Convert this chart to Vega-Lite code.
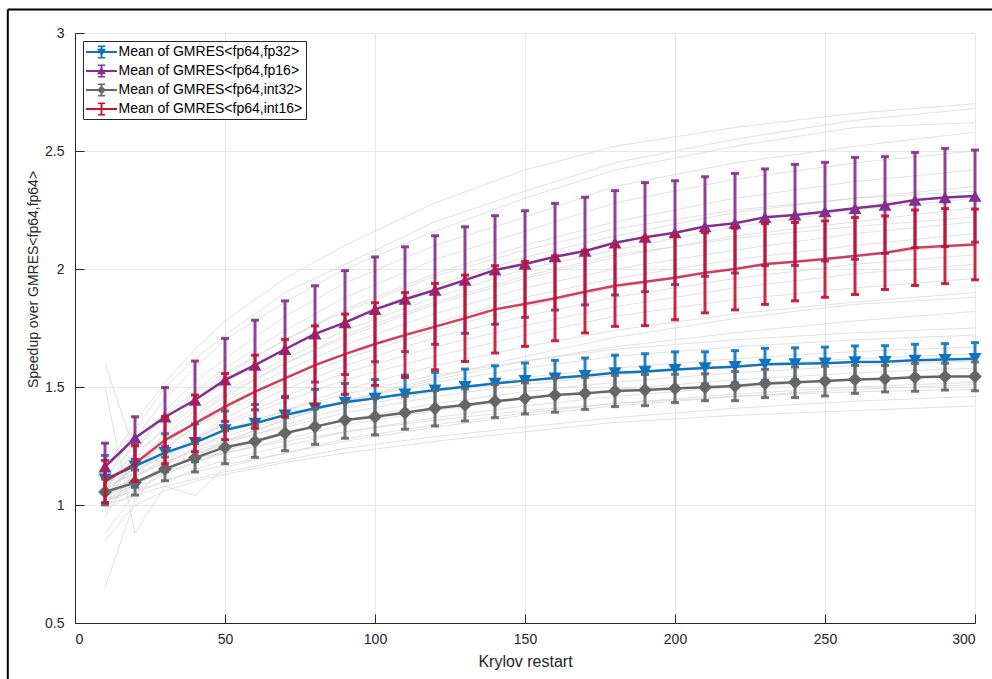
{
  "$schema": "https://vega.github.io/schema/vega-lite/v6.json",
  "width": 900,
  "height": 590,
  "autosize": {"type": "none"},
  "padding": {"left": 75, "top": 33, "right": 17, "bottom": 56},
  "background": "white",
  "config": {
    "view": {"stroke": null},
    "font": "Liberation Sans",
    "axis": {"grid": true, "gridColor": "#e8e8e8", "domainColor": "#262626", "tickColor": "#262626",
      "labelFontSize": 14, "labelColor": "#262626", "labelFont": "Liberation Sans",
      "titleFontSize": 14, "titleFontWeight": "normal", "titleColor": "#262626", "titleFont": "Liberation Sans"},
    "axisX": {"tickSize": -9, "labelPadding": 18, "titleFontSize": 16},
    "axisY": {"tickSize": -9, "labelPadding": 20},
    "legend": {"titleFont": "Liberation Sans", "labelFont": "Liberation Sans"}
  },
  "datasets": {
    "bg": [
      {"id": 1, "xs": [10,20,30,40,50,70,90,120,150,180,220,260,300], "ys": [1.10,1.32,1.50,1.62,1.72,1.90,2.02,2.20,2.33,2.45,2.55,2.63,2.68]},
      {"id": 2, "xs": [10,20,30,40,50,70,90,120,150,180,220,260,300], "ys": [1.05,1.28,1.45,1.58,1.70,1.86,2.00,2.16,2.30,2.42,2.52,2.60,2.62]},
      {"id": 3, "xs": [10,20,30,40,50,70,90,120,150,180,220,260,300], "ys": [1.02,1.22,1.40,1.52,1.62,1.80,1.94,2.10,2.22,2.35,2.45,2.52,2.58]},
      {"id": 4, "xs": [10,20,30,40,50,70,90,120,150,180,220,260,300], "ys": [1.12,1.25,1.38,1.48,1.58,1.74,1.88,2.04,2.16,2.28,2.38,2.45,2.50]},
      {"id": 5, "xs": [10,20,30,40,50,70,90,120,150,180,220,260,300], "ys": [1.00,1.20,1.33,1.45,1.55,1.70,1.83,1.98,2.10,2.20,2.30,2.37,2.42]},
      {"id": 6, "xs": [10,20,30,40,50,70,90,120,150,180,220,260,300], "ys": [1.08,1.22,1.32,1.42,1.52,1.66,1.78,1.93,2.05,2.14,2.24,2.30,2.35]},
      {"id": 7, "xs": [10,20,30,40,50,70,90,120,150,180,220,260,300], "ys": [1.04,1.18,1.30,1.40,1.48,1.62,1.74,1.88,2.00,2.08,2.18,2.25,2.30]},
      {"id": 8, "xs": [10,20,30,40,50,70,90,120,150,180,220,260,300], "ys": [0.95,1.15,1.27,1.37,1.46,1.60,1.71,1.85,1.96,2.05,2.14,2.20,2.26]},
      {"id": 9, "xs": [10,20,30,40,50,70,90,120,150,180,220,260,300], "ys": [1.06,1.16,1.26,1.35,1.44,1.57,1.68,1.81,1.92,2.00,2.08,2.15,2.20]},
      {"id": 10, "xs": [10,20,30,40,50,70,90,120,150,180,220,260,300], "ys": [1.00,1.13,1.24,1.33,1.41,1.54,1.64,1.77,1.88,1.96,2.04,2.10,2.15]},
      {"id": 11, "xs": [10,20,30,40,50,70,90,120,150,180,220,260,300], "ys": [1.10,1.18,1.25,1.33,1.40,1.52,1.62,1.74,1.84,1.92,2.00,2.06,2.10]},
      {"id": 12, "xs": [10,20,30,40,50,70,90,120,150,180,220,260,300], "ys": [0.65,1.02,1.18,1.28,1.37,1.49,1.59,1.71,1.80,1.88,1.96,2.02,2.06]},
      {"id": 13, "xs": [10,20,30,40,50,70,90,120,150,180,220,260,300], "ys": [1.03,1.12,1.20,1.28,1.35,1.46,1.56,1.67,1.76,1.84,1.92,1.98,2.02]},
      {"id": 14, "xs": [10,20,30,40,50,70,90,120,150,180,220,260,300], "ys": [1.07,1.14,1.21,1.28,1.34,1.44,1.53,1.63,1.72,1.80,1.87,1.92,1.96]},
      {"id": 15, "xs": [10,20,30,40,50,70,90,120,150,180,220,260,300], "ys": [1.00,1.09,1.17,1.24,1.30,1.40,1.49,1.59,1.67,1.74,1.81,1.86,1.90]},
      {"id": 16, "xs": [10,20,30,40,50,70,90,120,150,180,220,260,300], "ys": [0.88,1.05,1.14,1.21,1.27,1.36,1.44,1.53,1.61,1.67,1.73,1.78,1.82]},
      {"id": 17, "xs": [10,20,30,40,50,70,90,120,150,180,220,260,300], "ys": [1.05,1.12,1.18,1.24,1.29,1.37,1.44,1.52,1.58,1.63,1.67,1.70,1.72]},
      {"id": 18, "xs": [10,20,30,40,50,70,90,120,150,180,220,260,300], "ys": [1.02,1.09,1.15,1.21,1.26,1.34,1.41,1.48,1.54,1.58,1.62,1.65,1.67]},
      {"id": 19, "xs": [10,20,30,40,50,70,90,120,150,180,220,260,300], "ys": [1.08,1.13,1.18,1.23,1.27,1.33,1.39,1.46,1.51,1.55,1.59,1.62,1.64]},
      {"id": 20, "xs": [10,20,30,40,50,70,90,120,150,180,220,260,300], "ys": [1.00,1.07,1.13,1.18,1.23,1.30,1.36,1.43,1.48,1.52,1.56,1.59,1.61]},
      {"id": 21, "xs": [10,20,30,40,50,70,90,120,150,180,220,260,300], "ys": [1.04,1.09,1.14,1.18,1.22,1.28,1.34,1.40,1.45,1.49,1.53,1.56,1.58]},
      {"id": 22, "xs": [10,20,30,40,50,70,90,120,150,180,220,260,300], "ys": [0.98,1.05,1.10,1.15,1.19,1.25,1.31,1.37,1.42,1.46,1.50,1.53,1.55]},
      {"id": 23, "xs": [10,20,30,40,50,70,90,120,150,180,220,260,300], "ys": [1.02,1.06,1.10,1.14,1.17,1.22,1.27,1.33,1.38,1.42,1.46,1.49,1.51]},
      {"id": 24, "xs": [10,20,30,40,50,70,90,120,150,180,220,260,300], "ys": [1.00,1.04,1.08,1.11,1.14,1.19,1.24,1.29,1.33,1.37,1.41,1.44,1.46]},
      {"id": 25, "xs": [10,20,30,40,50,70,90,120,150,180,220,260,300], "ys": [1.60,1.22,1.18,1.20,1.22,1.27,1.31,1.36,1.40,1.43,1.46,1.48,1.49]},
      {"id": 26, "xs": [10,20,30,40,50,70,90,120,150,180,220,260,300], "ys": [1.50,0.88,1.08,1.04,1.16,1.22,1.28,1.34,1.39,1.43,1.47,1.50,1.52]},
      {"id": 27, "xs": [10,20,30,40,50,70,90,120,150,180,220,260,300], "ys": [0.85,1.00,1.06,1.10,1.13,1.18,1.22,1.27,1.31,1.35,1.38,1.40,1.42]},
      {"id": 28, "xs": [10,20,30,40,50,70,90,120,150,180,220,260,300], "ys": [1.15,1.35,1.52,1.66,1.78,1.96,2.10,2.28,2.42,2.52,2.60,2.66,2.70]},
      {"id": 29, "xs": [10,20,30,40,50,70,90,120,150,180,220,260,300], "ys": [1.06,1.24,1.36,1.47,1.56,1.70,1.82,1.97,2.08,2.17,2.25,2.30,2.33]},
      {"id": 30, "xs": [10,20,30,40,50,70,90,120,150,180,220,260,300], "ys": [1.03,1.17,1.29,1.38,1.47,1.60,1.72,1.86,1.97,2.06,2.13,2.18,2.22]},
      {"id": 31, "xs": [10,20,30,40,50,70,90,120,150,180,220,260,300], "ys": [1.09,1.15,1.21,1.27,1.32,1.40,1.47,1.55,1.61,1.66,1.70,1.73,1.75]},
      {"id": 32, "xs": [10,20,30,40,50,70,90,120,150,180,220,260,300], "ys": [1.01,1.08,1.15,1.21,1.27,1.36,1.44,1.54,1.63,1.71,1.79,1.85,1.88]}
    ],
    "means": [
      {"s":"fp32","x":10,"y":1.110,"lo":1.010,"hi":1.210},
      {"s":"fp32","x":20,"y":1.165,"lo":1.075,"hi":1.255},
      {"s":"fp32","x":30,"y":1.222,"lo":1.142,"hi":1.302},
      {"s":"fp32","x":40,"y":1.264,"lo":1.184,"hi":1.344},
      {"s":"fp32","x":50,"y":1.318,"lo":1.238,"hi":1.398},
      {"s":"fp32","x":60,"y":1.346,"lo":1.266,"hi":1.426},
      {"s":"fp32","x":70,"y":1.381,"lo":1.301,"hi":1.461},
      {"s":"fp32","x":80,"y":1.410,"lo":1.330,"hi":1.490},
      {"s":"fp32","x":90,"y":1.435,"lo":1.355,"hi":1.515},
      {"s":"fp32","x":100,"y":1.452,"lo":1.372,"hi":1.532},
      {"s":"fp32","x":110,"y":1.470,"lo":1.390,"hi":1.550},
      {"s":"fp32","x":120,"y":1.487,"lo":1.412,"hi":1.562},
      {"s":"fp32","x":130,"y":1.501,"lo":1.426,"hi":1.576},
      {"s":"fp32","x":140,"y":1.515,"lo":1.440,"hi":1.590},
      {"s":"fp32","x":150,"y":1.527,"lo":1.452,"hi":1.602},
      {"s":"fp32","x":160,"y":1.538,"lo":1.463,"hi":1.613},
      {"s":"fp32","x":170,"y":1.548,"lo":1.473,"hi":1.623},
      {"s":"fp32","x":180,"y":1.560,"lo":1.485,"hi":1.635},
      {"s":"fp32","x":190,"y":1.566,"lo":1.491,"hi":1.641},
      {"s":"fp32","x":200,"y":1.574,"lo":1.499,"hi":1.649},
      {"s":"fp32","x":210,"y":1.581,"lo":1.513,"hi":1.649},
      {"s":"fp32","x":220,"y":1.586,"lo":1.518,"hi":1.654},
      {"s":"fp32","x":230,"y":1.596,"lo":1.528,"hi":1.664},
      {"s":"fp32","x":240,"y":1.598,"lo":1.530,"hi":1.666},
      {"s":"fp32","x":250,"y":1.601,"lo":1.533,"hi":1.669},
      {"s":"fp32","x":260,"y":1.606,"lo":1.538,"hi":1.674},
      {"s":"fp32","x":270,"y":1.607,"lo":1.539,"hi":1.675},
      {"s":"fp32","x":280,"y":1.613,"lo":1.545,"hi":1.681},
      {"s":"fp32","x":290,"y":1.616,"lo":1.548,"hi":1.684},
      {"s":"fp32","x":300,"y":1.620,"lo":1.552,"hi":1.688},
      {"s":"fp16","x":10,"y":1.162,"lo":1.062,"hi":1.262},
      {"s":"fp16","x":20,"y":1.284,"lo":1.194,"hi":1.374},
      {"s":"fp16","x":30,"y":1.373,"lo":1.248,"hi":1.498},
      {"s":"fp16","x":40,"y":1.445,"lo":1.280,"hi":1.610},
      {"s":"fp16","x":50,"y":1.530,"lo":1.354,"hi":1.706},
      {"s":"fp16","x":60,"y":1.593,"lo":1.403,"hi":1.783},
      {"s":"fp16","x":70,"y":1.660,"lo":1.455,"hi":1.865},
      {"s":"fp16","x":80,"y":1.725,"lo":1.521,"hi":1.929},
      {"s":"fp16","x":90,"y":1.773,"lo":1.553,"hi":1.993},
      {"s":"fp16","x":100,"y":1.829,"lo":1.607,"hi":2.051},
      {"s":"fp16","x":110,"y":1.872,"lo":1.650,"hi":2.094},
      {"s":"fp16","x":120,"y":1.911,"lo":1.681,"hi":2.141},
      {"s":"fp16","x":130,"y":1.953,"lo":1.727,"hi":2.179},
      {"s":"fp16","x":140,"y":1.996,"lo":1.766,"hi":2.226},
      {"s":"fp16","x":150,"y":2.021,"lo":1.795,"hi":2.247},
      {"s":"fp16","x":160,"y":2.052,"lo":1.826,"hi":2.278},
      {"s":"fp16","x":170,"y":2.076,"lo":1.848,"hi":2.304},
      {"s":"fp16","x":180,"y":2.111,"lo":1.890,"hi":2.332},
      {"s":"fp16","x":190,"y":2.135,"lo":1.904,"hi":2.366},
      {"s":"fp16","x":200,"y":2.154,"lo":1.934,"hi":2.374},
      {"s":"fp16","x":210,"y":2.180,"lo":1.969,"hi":2.391},
      {"s":"fp16","x":220,"y":2.194,"lo":1.983,"hi":2.405},
      {"s":"fp16","x":230,"y":2.219,"lo":2.014,"hi":2.424},
      {"s":"fp16","x":240,"y":2.229,"lo":2.015,"hi":2.443},
      {"s":"fp16","x":250,"y":2.243,"lo":2.034,"hi":2.452},
      {"s":"fp16","x":260,"y":2.257,"lo":2.041,"hi":2.473},
      {"s":"fp16","x":270,"y":2.271,"lo":2.066,"hi":2.476},
      {"s":"fp16","x":280,"y":2.292,"lo":2.090,"hi":2.494},
      {"s":"fp16","x":290,"y":2.303,"lo":2.095,"hi":2.511},
      {"s":"fp16","x":300,"y":2.309,"lo":2.114,"hi":2.504},
      {"s":"int32","x":10,"y":1.055,"lo":1.000,"hi":1.110},
      {"s":"int32","x":20,"y":1.095,"lo":1.042,"hi":1.148},
      {"s":"int32","x":30,"y":1.153,"lo":1.103,"hi":1.203},
      {"s":"int32","x":40,"y":1.200,"lo":1.140,"hi":1.260},
      {"s":"int32","x":50,"y":1.245,"lo":1.175,"hi":1.315},
      {"s":"int32","x":60,"y":1.270,"lo":1.202,"hi":1.338},
      {"s":"int32","x":70,"y":1.305,"lo":1.230,"hi":1.380},
      {"s":"int32","x":80,"y":1.332,"lo":1.257,"hi":1.407},
      {"s":"int32","x":90,"y":1.360,"lo":1.283,"hi":1.437},
      {"s":"int32","x":100,"y":1.374,"lo":1.297,"hi":1.451},
      {"s":"int32","x":110,"y":1.391,"lo":1.321,"hi":1.461},
      {"s":"int32","x":120,"y":1.410,"lo":1.335,"hi":1.485},
      {"s":"int32","x":130,"y":1.424,"lo":1.356,"hi":1.492},
      {"s":"int32","x":140,"y":1.440,"lo":1.370,"hi":1.510},
      {"s":"int32","x":150,"y":1.452,"lo":1.386,"hi":1.518},
      {"s":"int32","x":160,"y":1.466,"lo":1.393,"hi":1.539},
      {"s":"int32","x":170,"y":1.473,"lo":1.405,"hi":1.541},
      {"s":"int32","x":180,"y":1.483,"lo":1.417,"hi":1.549},
      {"s":"int32","x":190,"y":1.487,"lo":1.421,"hi":1.553},
      {"s":"int32","x":200,"y":1.494,"lo":1.434,"hi":1.554},
      {"s":"int32","x":210,"y":1.499,"lo":1.442,"hi":1.556},
      {"s":"int32","x":220,"y":1.504,"lo":1.442,"hi":1.566},
      {"s":"int32","x":230,"y":1.515,"lo":1.455,"hi":1.575},
      {"s":"int32","x":240,"y":1.520,"lo":1.455,"hi":1.585},
      {"s":"int32","x":250,"y":1.525,"lo":1.462,"hi":1.588},
      {"s":"int32","x":260,"y":1.532,"lo":1.473,"hi":1.591},
      {"s":"int32","x":270,"y":1.535,"lo":1.479,"hi":1.591},
      {"s":"int32","x":280,"y":1.541,"lo":1.482,"hi":1.600},
      {"s":"int32","x":290,"y":1.544,"lo":1.487,"hi":1.601},
      {"s":"int32","x":300,"y":1.545,"lo":1.484,"hi":1.606},
      {"s":"int16","x":10,"y":1.099,"lo":1.009,"hi":1.189},
      {"s":"int16","x":20,"y":1.176,"lo":1.101,"hi":1.251},
      {"s":"int16","x":30,"y":1.275,"lo":1.175,"hi":1.375},
      {"s":"int16","x":40,"y":1.346,"lo":1.226,"hi":1.466},
      {"s":"int16","x":50,"y":1.417,"lo":1.277,"hi":1.557},
      {"s":"int16","x":60,"y":1.480,"lo":1.325,"hi":1.635},
      {"s":"int16","x":70,"y":1.537,"lo":1.372,"hi":1.702},
      {"s":"int16","x":80,"y":1.593,"lo":1.427,"hi":1.759},
      {"s":"int16","x":90,"y":1.639,"lo":1.469,"hi":1.809},
      {"s":"int16","x":100,"y":1.682,"lo":1.507,"hi":1.857},
      {"s":"int16","x":110,"y":1.720,"lo":1.540,"hi":1.900},
      {"s":"int16","x":120,"y":1.756,"lo":1.573,"hi":1.939},
      {"s":"int16","x":130,"y":1.791,"lo":1.608,"hi":1.974},
      {"s":"int16","x":140,"y":1.829,"lo":1.644,"hi":2.014},
      {"s":"int16","x":150,"y":1.852,"lo":1.672,"hi":2.032},
      {"s":"int16","x":160,"y":1.876,"lo":1.696,"hi":2.056},
      {"s":"int16","x":170,"y":1.904,"lo":1.729,"hi":2.079},
      {"s":"int16","x":180,"y":1.929,"lo":1.757,"hi":2.101},
      {"s":"int16","x":190,"y":1.946,"lo":1.760,"hi":2.132},
      {"s":"int16","x":200,"y":1.963,"lo":1.785,"hi":2.141},
      {"s":"int16","x":210,"y":1.984,"lo":1.814,"hi":2.154},
      {"s":"int16","x":220,"y":2.000,"lo":1.827,"hi":2.173},
      {"s":"int16","x":230,"y":2.021,"lo":1.850,"hi":2.192},
      {"s":"int16","x":240,"y":2.031,"lo":1.865,"hi":2.197},
      {"s":"int16","x":250,"y":2.042,"lo":1.880,"hi":2.204},
      {"s":"int16","x":260,"y":2.055,"lo":1.892,"hi":2.218},
      {"s":"int16","x":270,"y":2.069,"lo":1.913,"hi":2.225},
      {"s":"int16","x":280,"y":2.090,"lo":1.930,"hi":2.250},
      {"s":"int16","x":290,"y":2.097,"lo":1.938,"hi":2.256},
      {"s":"int16","x":300,"y":2.104,"lo":1.954,"hi":2.254}
    ]
  },
  "layer": [
    {
      "data": {"name": "bg"},
      "transform": [{"flatten": ["xs", "ys"], "as": ["x", "y"]}],
      "mark": {"type": "line", "color": "#cfcfcf", "strokeWidth": 0.9, "opacity": 0.7},
      "encoding": {
        "detail": {"field": "id", "type": "nominal"},
        "x": {"field": "x", "type": "quantitative", "title": "Krylov restart", "scale": {"domain": [0, 300], "nice": false},
          "axis": {"values": [0,50,100,150,200,250,300], "titleY": 38, "titleBaseline": "middle"}},
        "y": {"field": "y", "type": "quantitative", "title": "Speedup over GMRES<fp64,fp64>", "scale": {"domain": [0.5, 3], "nice": false},
          "axis": {"values": [0.5,1,1.5,2,2.5,3], "format": "~g", "titleX": -42, "titleY": 246, "titleBaseline": "middle"}}
      }
    },
    {
      "data": {"values": [{}]},
      "mark": {"type": "rule", "color": "black", "strokeWidth": 2, "clip": false},
      "encoding": {
        "x": {"datum": -22.4, "type": "quantitative", "title": "Krylov restart", "scale": {"domain": [0, 300], "nice": false}},
        "x2": {"datum": 330},
        "y": {"datum": 3.1, "type": "quantitative", "title": "Speedup over GMRES<fp64,fp64>", "scale": {"domain": [0.5, 3], "nice": false}}
      }
    },
    {
      "data": {"values": [{}]},
      "mark": {"type": "rule", "color": "black", "strokeWidth": 2, "clip": false},
      "encoding": {
        "x": {"datum": -22.4, "type": "quantitative", "title": "Krylov restart", "scale": {"domain": [0, 300], "nice": false}},
        "y": {"datum": 3.1, "type": "quantitative", "title": "Speedup over GMRES<fp64,fp64>", "scale": {"domain": [0.5, 3], "nice": false}},
        "y2": {"datum": 0.1}
      }
    },
    {
      "data": {"name": "means"},
      "transform": [{"filter": "datum.s === 'fp32'"}],
      "layer": [
        {"mark": {"type": "errorbar", "color": "#0F74BD", "thickness": 3, "opacity": 0.9, "ticks": {"size": 8, "thickness": 3}},
         "encoding": {"x": {"field": "x", "type": "quantitative", "title": "Krylov restart", "scale": {"domain": [0, 300], "nice": false}},
           "y": {"field": "lo", "type": "quantitative", "title": "Speedup over GMRES<fp64,fp64>", "scale": {"domain": [0.5, 3], "nice": false}},
           "y2": {"field": "hi"}}},
        {"mark": {"type": "line", "color": "#0F74BD", "strokeWidth": 2.5},
         "encoding": {"x": {"field": "x", "type": "quantitative", "title": "Krylov restart", "scale": {"domain": [0, 300], "nice": false}},
           "y": {"field": "y", "type": "quantitative", "title": "Speedup over GMRES<fp64,fp64>", "scale": {"domain": [0.5, 3], "nice": false}}}},
        {"mark": {"type": "point", "color": "#0F74BD", "filled": true, "opacity": 1, "shape": "triangle-down", "size": 170},
         "encoding": {"x": {"field": "x", "type": "quantitative", "title": "Krylov restart", "scale": {"domain": [0, 300], "nice": false}},
           "y": {"field": "y", "type": "quantitative", "title": "Speedup over GMRES<fp64,fp64>", "scale": {"domain": [0.5, 3], "nice": false}}}}
      ]
    },
    {
      "data": {"name": "means"},
      "transform": [{"filter": "datum.s === 'fp16'"}],
      "layer": [
        {"mark": {"type": "errorbar", "color": "#862E8D", "thickness": 3, "opacity": 0.9, "ticks": {"size": 8, "thickness": 3}},
         "encoding": {"x": {"field": "x", "type": "quantitative", "title": "Krylov restart", "scale": {"domain": [0, 300], "nice": false}},
           "y": {"field": "lo", "type": "quantitative", "title": "Speedup over GMRES<fp64,fp64>", "scale": {"domain": [0.5, 3], "nice": false}},
           "y2": {"field": "hi"}}},
        {"mark": {"type": "line", "color": "#862E8D", "strokeWidth": 2.5},
         "encoding": {"x": {"field": "x", "type": "quantitative", "title": "Krylov restart", "scale": {"domain": [0, 300], "nice": false}},
           "y": {"field": "y", "type": "quantitative", "title": "Speedup over GMRES<fp64,fp64>", "scale": {"domain": [0.5, 3], "nice": false}}}},
        {"mark": {"type": "point", "color": "#862E8D", "filled": true, "opacity": 1, "shape": "triangle-up", "size": 170},
         "encoding": {"x": {"field": "x", "type": "quantitative", "title": "Krylov restart", "scale": {"domain": [0, 300], "nice": false}},
           "y": {"field": "y", "type": "quantitative", "title": "Speedup over GMRES<fp64,fp64>", "scale": {"domain": [0.5, 3], "nice": false}}}}
      ]
    },
    {
      "data": {"name": "means"},
      "transform": [{"filter": "datum.s === 'int32'"}],
      "layer": [
        {"mark": {"type": "errorbar", "color": "#666666", "thickness": 3, "opacity": 0.9, "ticks": {"size": 8, "thickness": 3}},
         "encoding": {"x": {"field": "x", "type": "quantitative", "title": "Krylov restart", "scale": {"domain": [0, 300], "nice": false}},
           "y": {"field": "lo", "type": "quantitative", "title": "Speedup over GMRES<fp64,fp64>", "scale": {"domain": [0.5, 3], "nice": false}},
           "y2": {"field": "hi"}}},
        {"mark": {"type": "line", "color": "#666666", "strokeWidth": 2.5},
         "encoding": {"x": {"field": "x", "type": "quantitative", "title": "Krylov restart", "scale": {"domain": [0, 300], "nice": false}},
           "y": {"field": "y", "type": "quantitative", "title": "Speedup over GMRES<fp64,fp64>", "scale": {"domain": [0.5, 3], "nice": false}}}},
        {"mark": {"type": "point", "color": "#666666", "filled": true, "opacity": 1, "shape": "diamond", "size": 190},
         "encoding": {"x": {"field": "x", "type": "quantitative", "title": "Krylov restart", "scale": {"domain": [0, 300], "nice": false}},
           "y": {"field": "y", "type": "quantitative", "title": "Speedup over GMRES<fp64,fp64>", "scale": {"domain": [0.5, 3], "nice": false}}}}
      ]
    },
    {
      "data": {"name": "means"},
      "transform": [{"filter": "datum.s === 'int16'"}],
      "layer": [
        {"mark": {"type": "errorbar", "color": "#C5112F", "thickness": 3, "opacity": 0.9, "ticks": {"size": 8, "thickness": 3}},
         "encoding": {"x": {"field": "x", "type": "quantitative", "title": "Krylov restart", "scale": {"domain": [0, 300], "nice": false}},
           "y": {"field": "lo", "type": "quantitative", "title": "Speedup over GMRES<fp64,fp64>", "scale": {"domain": [0.5, 3], "nice": false}},
           "y2": {"field": "hi"}}},
        {"mark": {"type": "line", "color": "#C5112F", "strokeWidth": 2.5, "opacity": 0.8},
         "encoding": {"x": {"field": "x", "type": "quantitative", "title": "Krylov restart", "scale": {"domain": [0, 300], "nice": false}},
           "y": {"field": "y", "type": "quantitative", "title": "Speedup over GMRES<fp64,fp64>", "scale": {"domain": [0.5, 3], "nice": false}}}}
      ]
    },
    {
      "data": {"name": "means"},
      "mark": {"type": "point", "filled": true, "opacity": 0, "size": 256},
      "encoding": {
        "x": {"field": "x", "type": "quantitative", "title": "Krylov restart", "scale": {"domain": [0, 300], "nice": false}},
        "y": {"field": "y", "type": "quantitative", "title": "Speedup over GMRES<fp64,fp64>", "scale": {"domain": [0.5, 3], "nice": false}},
        "color": {"field": "s", "type": "nominal",
          "scale": {"domain": ["fp32", "fp16", "int32", "int16"], "range": ["#0F74BD", "#862E8D", "#666666", "#C5112F"]},
          "legend": {"title": null, "orient": "top-left", "offset": 8, "padding": 3, "fillColor": "white",
            "strokeColor": "#262626", "symbolSize": 256, "symbolStrokeWidth": 0, "symbolOpacity": 1,
            "symbolOffset": 7.5, "labelOffset": 9, "rowPadding": 4, "labelFontSize": 14, "labelColor": "#000000",
            "labelFont": "Liberation Sans", "labelLimit": 400,
            "labelExpr": "'Mean of GMRES<fp64,' + datum.label + '>'"}},
        "shape": {"field": "s", "type": "nominal",
          "scale": {"domain": ["fp32", "fp16", "int32", "int16"], "range": [
            "M-1.94,-0.11H1.94V0.11H-1.94Z M-0.12,-0.75H0.12V0.75H-0.12Z M-0.45,-0.8H0.45V-0.62H-0.45Z M-0.45,0.62H0.45V0.8H-0.45Z M-0.55,-0.4H0.55L0,0.55Z",
            "M-1.94,-0.11H1.94V0.11H-1.94Z M-0.12,-0.75H0.12V0.75H-0.12Z M-0.45,-0.8H0.45V-0.62H-0.45Z M-0.45,0.62H0.45V0.8H-0.45Z M0.55,0.4H-0.55L0,-0.55Z",
            "M-1.94,-0.11H1.94V0.11H-1.94Z M-0.12,-0.75H0.12V0.75H-0.12Z M-0.45,-0.8H0.45V-0.62H-0.45Z M-0.45,0.62H0.45V0.8H-0.45Z M0,-0.55L0.55,0L0,0.55L-0.55,0Z",
            "M-1.94,-0.11H1.94V0.11H-1.94Z M-0.12,-0.75H0.12V0.75H-0.12Z M-0.45,-0.8H0.45V-0.62H-0.45Z M-0.45,0.62H0.45V0.8H-0.45Z"
          ]},
          "legend": {"title": null, "orient": "top-left", "offset": 8, "padding": 3, "fillColor": "white",
            "strokeColor": "#262626", "symbolSize": 256, "symbolStrokeWidth": 0, "symbolOpacity": 1,
            "symbolOffset": 7.5, "labelOffset": 9, "rowPadding": 4, "labelFontSize": 14, "labelColor": "#000000",
            "labelFont": "Liberation Sans", "labelLimit": 400,
            "labelExpr": "'Mean of GMRES<fp64,' + datum.label + '>'"}}
      }
    }
  ]
}
